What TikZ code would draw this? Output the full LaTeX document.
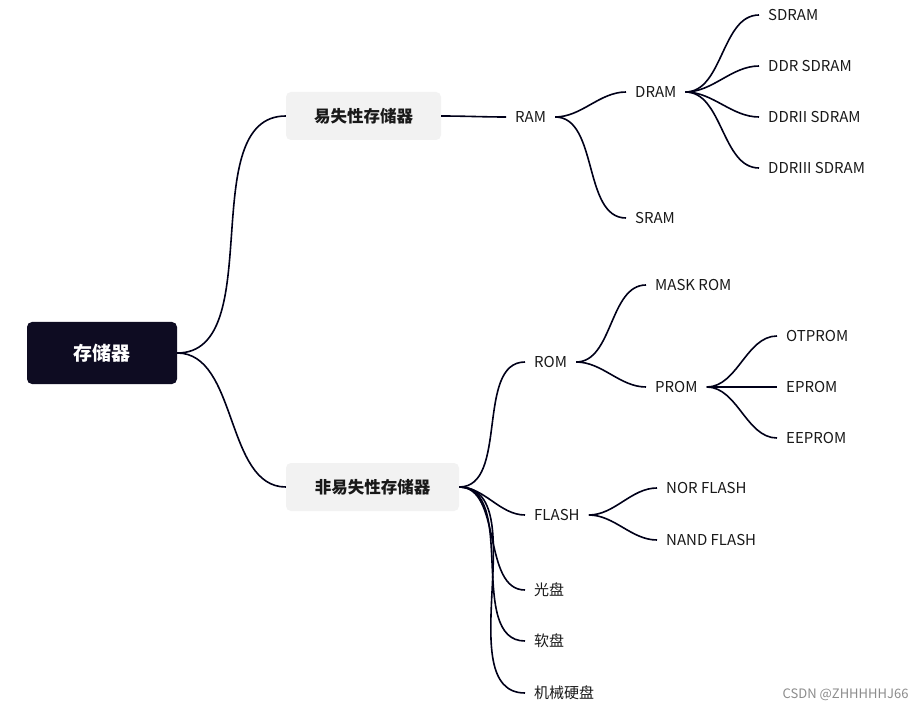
\documentclass[tikz,border=0pt]{standalone}
\usepackage{fontspec}
\setmainfont{Noto Sans CJK SC}
\begin{document}
\begin{tikzpicture}[x=1pt,y=-1pt,
  leaf/.style={anchor=west,inner xsep=9pt,inner ysep=2pt,font=\fontsize{15}{18}\selectfont,text=black!90},
  sub/.style={fill=black!5,rounded corners=5pt,minimum width=#1,minimum height=48pt,font=\fontsize{16.5}{20}\selectfont\bfseries,text=black!90},
  link/.style={draw=black!90!blue,line width=1.6pt,out=0,in=180,looseness=0.9}]
\useasboundingbox[fill=white] (0,0) rectangle (924,711);
\node[fill={rgb,255:red,14;green,12;blue,34},rounded corners=5pt,minimum width=150pt,minimum height=62pt,text=white,font=\fontsize{19}{22}\selectfont\bfseries] (root) at (102,353) {存储器};
\node[sub=155pt] (vol) at (363.5,116) {易失性存储器};
\node[sub=173pt] (nv) at (372.5,487) {非易失性存储器};
\node[leaf] (ram) at (506,117) {RAM};
\node[leaf] (dram) at (626,92) {DRAM};
\node[leaf] (sram) at (626,218) {SRAM};
\node[leaf] (sd) at (759,15) {SDRAM};
\node[leaf] (ddr) at (759,66) {DDR SDRAM};
\node[leaf] (ddr2) at (759,117) {DDRII SDRAM};
\node[leaf] (ddr3) at (759,168) {DDRIII SDRAM};
\node[leaf] (rom) at (525,362) {ROM};
\node[leaf] (mask) at (646,285) {MASK ROM};
\node[leaf] (prom) at (646,387) {PROM};
\node[leaf] (otp) at (777,336) {OTPROM};
\node[leaf] (ep) at (777,387) {EPROM};
\node[leaf] (eep) at (777,438) {EEPROM};
\node[leaf] (flash) at (525,515) {FLASH};
\node[leaf] (nor) at (657,488) {NOR FLASH};
\node[leaf] (nand) at (657,540) {NAND FLASH};
\node[leaf] (cd) at (525,590) {光盘};
\node[leaf] (fd) at (525,641) {软盘};
\node[leaf] (hd) at (525,693) {机械硬盘};
\draw[link] (root.east) to (vol.west);
\draw[link] (root.east) to (nv.west);
\draw[link] (vol.east) to (ram.west);
\foreach \c in {dram,sram} \draw[link] (ram.east) to (\c.west);
\foreach \c in {sd,ddr,ddr2,ddr3} \draw[link] (dram.east) to (\c.west);
\foreach \c in {rom,flash,cd,fd,hd} \draw[link] (nv.east) to (\c.west);
\foreach \c in {mask,prom} \draw[link] (rom.east) to (\c.west);
\foreach \c in {otp,ep,eep} \draw[link] (prom.east) to (\c.west);
\foreach \c in {nor,nand} \draw[link] (flash.east) to (\c.west);
\node[anchor=east,text=black!45,font=\fontsize{13}{15}\selectfont] (wm) at (912,695) {CSDN @ZHHHHHJ66};
\end{tikzpicture}
\end{document}
